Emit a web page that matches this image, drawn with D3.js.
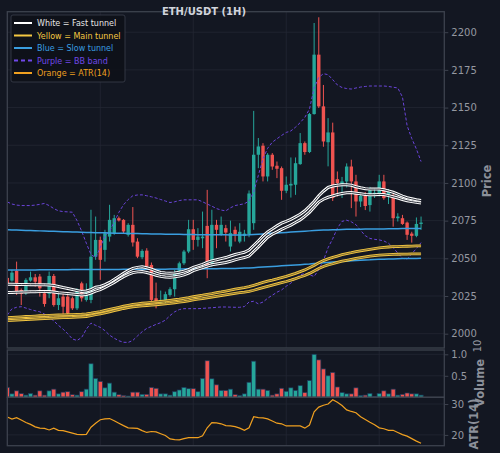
<!DOCTYPE html>
<html>
<head>
<meta charset="utf-8">
<script src="https://cdn.jsdelivr.net/npm/d3@7"></script>
<style>
  body { margin: 0; background: #131722; }
  svg { display: block; font-family: "DejaVu Sans", sans-serif; }
</style>
</head>
<body>
<svg id="chart" width="500" height="453"></svg>
<script>
// ---- data (one candle per hour, 90 candles) ----
var opens = [2037,2035.2,2041.6,2029,2026.8,2035.2,2037.4,2037.9,2026.8,2026.4,
  2038.3,2019,2024.6,2024.6,2023.5,2016.8,2033.4,2022.4,2022.4,2051.1,
  2062.2,2055.6,2064.4,2066.7,2076.6,2075.5,2065.6,2072.2,2061.1,2050.7,
  2055.1,2045.6,2023.5,2020.6,2021.3,2025.7,2029.5,2040.5,2046.7,2054.5,
  2069.3,2062.2,2063.3,2071.5,2046.7,2072.2,2066,2070,2057.8,2068.9,
  2061.1,2064.9,2066,2073.3,2118.7,2124.7,2104.3,2118.7,2111.4,2109.8,
  2094.8,2098.3,2098.8,2112.5,2126.4,2120.5,2145.7,2185.1,2150.8,2127,
  2133.5,2102.5,2098,2101,2110.9,2101,2087.7,2091.4,2085.3,2092,
  2092.3,2101,2092,2091.4,2076.6,2076.6,2073.7,2066.4,2064.9,2072.8];
var highs = [2039,2042.3,2047.8,2030,2036.8,2041.2,2039.6,2039.6,2029,2041.2,
  2039.6,2026.8,2027.9,2026.8,2024.6,2030.1,2034.5,2033.4,2082.2,2077.7,
  2064.4,2068.9,2085.5,2078.8,2077.7,2076,2073.3,2084,2063.3,2056,
  2056.7,2047.2,2033.9,2028.6,2027.9,2030.8,2042.3,2047.8,2055.6,2075.5,
  2075.5,2070,2081,2095.4,2082.2,2075.5,2077.7,2072.2,2075,2071.1,
  2073.3,2068.9,2095,2147.8,2129.8,2126.4,2119.8,2119.8,2114.2,2110.9,
  2104.3,2116.9,2116.9,2133.1,2127.5,2146.4,2206.1,2209.9,2165,2143,
  2140,2107.6,2104,2113,2115.4,2105.4,2093.6,2094,2097.4,2095.5,
  2105.4,2105.4,2096,2093.1,2079.9,2078.8,2074.4,2067.6,2077.1,2077.7];
var lows = [2030,2034.5,2025.7,2019,2025.7,2034.5,2031.2,2024.6,2017.9,2023.5,
  2017.9,2015.7,2012.4,2012,2015.7,2015.7,2021.3,2021.3,2020.2,2049,
  2035.7,2047.8,2061.1,2065.6,2074.4,2066.7,2064.4,2057.8,2050.1,2049.4,
  2042.3,2021.3,2016.8,2019,2019.7,2024.6,2024.6,2039.6,2045.6,2053.4,
  2055.6,2057.8,2056.7,2036.8,2044.5,2056.7,2064.9,2061.1,2054.5,2061.1,
  2060,2061.1,2064,2068.9,2109.8,2101,2101,2108.7,2103.2,2088.8,
  2093.2,2090.3,2092.1,2112,2118.7,2119.8,2145.3,2149.7,2124,2111,
  2088,2091,2090,2097,2083.3,2077.7,2084,2082,2081,2090,
  2091,2088.8,2086,2071,2074.4,2072.2,2062.2,2060.4,2064,2068.9];
var closes = [2033,2040.5,2027.9,2026.4,2035.7,2037.4,2034.5,2030.1,2019.7,2038.3,
  2019,2023.5,2017.9,2013.5,2016.8,2029,2023.5,2027.9,2051.1,2062.2,
  2049,2066.7,2075.5,2076.6,2075.1,2067.8,2072.2,2060.5,2051.1,2054.9,
  2044.5,2022.4,2021.3,2022.4,2026.2,2029.5,2040.5,2046.7,2054.5,2069.3,
  2062.2,2064.4,2064.4,2044.5,2072.2,2068.9,2072.2,2067.1,2066.7,2066,
  2067.6,2066.4,2093,2118.7,2124.2,2104.3,2118.7,2110.9,2109.4,2094.8,
  2098.8,2099.4,2113.1,2126.4,2120.5,2145.7,2185.1,2150.8,2127.5,2133.5,
  2090,2099.9,2101,2110.9,2101,2087.7,2091.4,2084.7,2095.2,2093.5,
  2101,2089.9,2094,2076.6,2077.7,2072.8,2065.6,2064.9,2072.8,2073.7];
var volumes = [0.23,0.08,0.15,0.085,0.05,0.09,0.05,0.15,0.05,0.15,
  0.19,0.08,0.12,0.13,0.06,0.05,0.13,0.19,0.78,0.44,
  0.37,0.22,0.33,0.12,0.06,0.04,0.03,0.12,0.12,0.07,
  0.07,0.23,0.21,0.08,0.08,0.05,0.13,0.17,0.23,0.2,
  0.2,0.13,0.44,0.85,0.43,0.29,0.16,0.16,0.19,0.06,
  0.04,0.08,0.35,0.84,0.19,0.19,0.16,0.05,0.08,0.21,
  0.14,0.22,0.16,0.27,0.11,0.39,1.0,0.87,0.66,0.5,
  0.58,0.24,0.11,0.08,0.08,0.22,0.04,0.05,0.09,0.02,
  0.09,0.15,0.08,0.19,0.05,0.07,0.1,0.08,0.08,0.05];
var atr = [25.8,25.1,25.6,24.8,24.0,23.4,22.6,22.2,22.1,21.6,
  22.2,21.5,21.4,21.0,20.6,20.2,20.1,20.2,22.5,23.8,
  24.9,25.2,25.3,24.6,23.8,23.0,22.3,22.2,22.1,21.4,
  20.8,21.1,21.0,20.4,19.8,18.7,18.5,18.4,18.8,19.1,
  19.1,19.1,19.7,22.3,24.0,23.9,23.6,23.0,22.9,22.7,
  22.2,21.5,22.3,25.9,25.6,25.5,25.2,24.5,23.8,23.6,
  22.9,22.9,22.9,22.9,22.2,23.2,27.5,29.0,29.6,30.0,
  31.4,30.6,29.5,28.1,27.6,27.2,25.9,25.0,24.1,23.3,
  22.3,22.0,21.5,21.5,20.8,20.1,19.6,18.8,18.0,17.3];
var fastHi = [2032.8,2032.8,2032.7,2032.6,2032.6,2032.5,2032.5,2032.4,2032.4,2032.3,
  2032,2031.3,2030.6,2030,2029.3,2028.6,2028,2028.3,2029.2,2030.8,
  2031.3,2032.5,2034,2036,2038,2040,2041.8,2043.3,2044,2044.4,
  2043.7,2042.8,2041.6,2040.6,2040.3,2040.1,2040.3,2040.8,2041.5,2042.5,
  2044,2045,2046,2047.3,2048.3,2049,2049.8,2050.5,2051.5,2052.5,
  2053.3,2054,2055.5,2058.5,2061.5,2064.8,2067.5,2069.5,2071.5,2073.3,
  2074.5,2075.8,2077.5,2079.2,2081.5,2084.5,2087.7,2091.5,2094.5,2097,
  2098,2098.5,2098.8,2098.8,2098.5,2097.5,2096.8,2096.2,2095.9,2095.9,
  2095.9,2095.5,2094.7,2093.8,2092.6,2091.3,2090.2,2089.5,2088.8,2088.3];
var fastLo = [2027.3,2027.4,2027.5,2027.6,2027.7,2027.8,2027.8,2027.9,2027.9,2027.9,
  2027.6,2027.2,2026.9,2026.6,2026.3,2026,2025.7,2026,2027,2028.2,
  2029.2,2030.7,2032.3,2034,2036,2037.8,2039.3,2040.5,2041,2041.2,
  2040.6,2039.8,2038.8,2038,2037.6,2037.4,2037.7,2038.2,2039,2040.2,
  2041.8,2042.8,2043.8,2044.8,2045.7,2046.2,2046.7,2047.2,2048,2049,
  2049.8,2050.5,2051.5,2054.5,2057.5,2060.8,2064,2066,2067.5,2069.2,
  2070.6,2072,2073.8,2075.5,2077.8,2080.5,2083.8,2087.3,2089.2,2090.5,
  2091.4,2092.3,2093,2093.5,2093.6,2093.2,2092.8,2092.4,2092.1,2092.2,
  2092.4,2092.3,2091.6,2090.8,2090,2089,2088.2,2087.6,2087.1,2086.7];
var mainHi = [2010.6,2010.8,2011,2011.2,2011.4,2011.5,2011.7,2011.9,2012,2012.2,
  2012.3,2012.4,2012.5,2012.6,2012.7,2012.8,2012.9,2013.2,2013.6,2014.2,
  2014.7,2015.4,2016.1,2016.8,2017.5,2018.2,2018.8,2019.4,2019.8,2020.2,
  2020.5,2020.8,2021.1,2021.4,2021.7,2022.1,2022.5,2022.9,2023.4,2023.9,
  2024.5,2025,2025.5,2026.1,2026.6,2027.2,2027.7,2028.3,2028.9,2029.5,
  2030.1,2030.6,2031.2,2032.1,2033,2034,2034.8,2035.5,2036.3,2037.2,
  2038,2039,2040,2041.2,2042.3,2043.8,2045.3,2047,2048.5,2049.6,
  2050.6,2051.5,2052.4,2053.1,2053.7,2054.4,2055,2055.5,2056,2056.5,
  2056.9,2057.2,2057.5,2057.7,2057.8,2057.9,2058,2058.1,2058.2,2058.2];
var mainLo = [2008.6,2008.8,2009,2009.2,2009.4,2009.5,2009.7,2009.9,2010,2010.2,
  2010.3,2010.5,2010.6,2010.7,2010.8,2011,2011.1,2011.4,2011.9,2012.6,
  2013.1,2013.8,2014.5,2015.3,2016,2016.7,2017.3,2017.8,2018.1,2018.4,
  2018.7,2018.9,2019.2,2019.5,2019.8,2020.1,2020.5,2020.9,2021.3,2021.8,
  2022.4,2022.9,2023.3,2023.8,2024.3,2024.8,2025.3,2025.8,2026.3,2026.8,
  2027.2,2027.5,2028,2028.8,2029.7,2030.6,2031.4,2032.2,2033,2033.8,
  2034.6,2035.5,2036.5,2037.6,2038.6,2040,2041.6,2043.2,2044.6,2045.6,
  2046.4,2047.3,2048.1,2048.7,2049.3,2049.9,2050.4,2050.9,2051.4,2051.8,
  2052.1,2052.3,2052.5,2052.6,2052.7,2052.8,2052.8,2052.9,2052.9,2052.9];
var slowHi = [2068.9,2068.8,2068.7,2068.6,2068.5,2068.4,2068.3,2068.2,2068.1,2068.0,
  2067.9,2067.8,2067.7,2067.6,2067.5,2067.4,2067.3,2067.2,2067.1,2067.0,
  2066.9,2066.9,2066.8,2066.7,2066.7,2066.6,2066.5,2066.5,2066.4,2066.3,
  2066.3,2066.2,2066.1,2066.1,2066.0,2066.0,2065.9,2065.9,2065.8,2065.8,
  2065.8,2065.7,2065.7,2065.7,2065.6,2065.6,2065.6,2065.6,2065.5,2065.5,
  2065.5,2065.5,2065.6,2065.8,2066.0,2066.2,2066.4,2066.6,2066.8,2067.0,
  2067.2,2067.4,2067.6,2067.8,2068.0,2068.2,2068.4,2068.6,2068.7,2068.8,
  2068.9,2069.0,2069.1,2069.2,2069.2,2069.3,2069.3,2069.4,2069.4,2069.5,
  2069.5,2069.5,2069.6,2069.6,2069.6,2069.7,2069.7,2069.7,2069.8,2069.8];
var slowLo = [2042.3,2042.3,2042.3,2042.3,2042.3,2042.3,2042.3,2042.4,2042.4,2042.4,
  2042.4,2042.4,2042.4,2042.4,2042.5,2042.5,2042.5,2042.5,2042.5,2042.5,
  2042.6,2042.6,2042.6,2042.6,2042.6,2042.7,2042.7,2042.7,2042.7,2042.7,
  2042.8,2042.8,2042.8,2042.8,2042.8,2042.9,2042.9,2042.9,2042.9,2043.0,
  2043.0,2043.0,2043.0,2043.1,2043.1,2043.1,2043.2,2043.2,2043.3,2043.3,
  2043.4,2043.5,2043.6,2043.8,2044.0,2044.2,2044.4,2044.6,2044.8,2045.0,
  2045.2,2045.4,2045.6,2045.8,2046.0,2046.2,2046.5,2046.8,2047.0,2047.3,
  2047.5,2047.7,2047.9,2048.1,2048.3,2048.5,2048.7,2048.9,2049.0,2049.2,
  2049.3,2049.4,2049.5,2049.6,2049.7,2049.8,2049.8,2049.9,2049.9,2050.0];
var bbUp = [2087.4,2086,2085.3,2085,2085,2085,2085.3,2085.8,2086.4,2085,
  2083,2081.5,2081,2080.8,2080.6,2075,2068,2060,2052.5,2050.5,
  2057,2065,2068,2074,2080.5,2085.5,2089,2091.5,2092,2092.1,
  2091.5,2090.8,2090,2089,2088,2087,2087.5,2088.3,2088.8,2088.8,
  2088.8,2088.8,2087.5,2086,2084.6,2083,2082,2081.5,2083.5,2085,
  2085.6,2086.2,2088,2094,2105,2116,2123,2127,2129.3,2131.5,
  2133.5,2134.5,2137,2140,2143.5,2149,2163,2170,2172.5,2171.8,
  2168.5,2165,2163.3,2162.6,2162.3,2163,2163.6,2164,2164.3,2164.3,
  2164.3,2164.3,2164,2163.5,2163,2157,2138,2129.5,2122.5,2114.2];
var bbLo = [2012.4,2016.5,2017.5,2017.9,2017,2016,2015.2,2014.5,2013,2011,
  2008.5,2005.5,2003,2000,1996.5,1995.5,1997.5,2003,2007,2005.5,
  2004.2,2002,1999,1997,1995.3,1994.3,1994.2,1995.5,1998.5,2001.3,
  2003.5,2004.8,2006.2,2007.3,2009,2012,2014.5,2016,2016.6,2016.6,
  2016.6,2016.6,2016.8,2017,2017.2,2017.5,2017.7,2017.7,2017.6,2017.5,
  2017.5,2018,2021,2021.5,2019.8,2021,2023.5,2025.5,2027.5,2029,
  2031.5,2033.5,2036.5,2039,2040,2039,2038,2042.5,2048.5,2057,
  2063,2070,2074.5,2075.3,2074.2,2072.3,2068.5,2065,2063.2,2062.6,
  2062.2,2061.5,2060,2057,2053.5,2050,2049.4,2053,2056.5,2060.4];

var priceTicks = [2000, 2025, 2050, 2075, 2100, 2125, 2150, 2175, 2200];
var volTicks = [0.5, 1.0];
var atrTicks = [20, 30];
var gridIdx = [20, 40, 60, 80];
var legendLabels = ["White = Fast tunnel", "Yellow = Main tunnel", "Blue = Slow tunnel", "Purple = BB band", "Orange = ATR(14)"];
var legendColors = ["#ffffff", "#f5c842", "#3a9ee0", "#7048e8", "#f0a020"];

// ---- layout ----
var svg = d3.select("#chart");
var left = 7.3, right = 444.3;
var mainTop = 11.7, mainBot = 348, volTop = 350, volBot = 397.3, atrTop = 397.3, atrBot = 445.7;
var bg = "#131722", up = "#26a69a", down = "#ef5350", gridCol = "#232734", spineCol = "#3d424e", textCol = "#9598a1";

svg.append("rect").attr("width", 500).attr("height", 453).attr("fill", bg);

var x = d3.scaleLinear().domain([0, 94]).range([left, right]);
var yP = d3.scaleLinear().domain([1990.5, 2213.6]).range([mainBot, mainTop]);
var yV = d3.scaleLinear().domain([0, 1.1]).range([volBot, volTop]);
var yA = d3.scaleLinear().domain([16.51, 32.18]).range([atrBot, atrTop]);

var defs = svg.append("defs");
function clip(id, y0, y1) {
  defs.append("clipPath").attr("id", id).append("rect")
    .attr("x", left).attr("y", y0).attr("width", right - left).attr("height", y1 - y0);
}
clip("cMain", mainTop, mainBot);
clip("cVol", volTop, volBot);
clip("cAtr", atrTop, atrBot);

function grid(y0, y1, yScale, ticks) {
  var g = svg.append("g");
  g.selectAll(".v").data(gridIdx).enter().append("line")
    .attr("x1", function(d) { return x(d); }).attr("x2", function(d) { return x(d); })
    .attr("y1", y0).attr("y2", y1).attr("stroke", gridCol).attr("stroke-width", 0.8);
  g.selectAll(".h").data(ticks).enter().append("line")
    .attr("x1", left).attr("x2", right)
    .attr("y1", function(d) { return yScale(d); }).attr("y2", function(d) { return yScale(d); })
    .attr("stroke", gridCol).attr("stroke-width", 0.8);
}
grid(mainTop, mainBot, yP, priceTicks);
grid(volTop, volBot, yV, volTicks);
grid(atrTop, atrBot, yA, atrTicks);

// ---- candles ----
var idx = d3.range(opens.length);
var gc = svg.append("g").attr("clip-path", "url(#cMain)");
var bw = 3.4;
gc.selectAll(".wick").data(idx).enter().append("line")
  .attr("x1", function(i) { return x(i); }).attr("x2", function(i) { return x(i); })
  .attr("y1", function(i) { return yP(highs[i]); }).attr("y2", function(i) { return yP(lows[i]); })
  .attr("stroke", function(i) { return closes[i] >= opens[i] ? up : down; })
  .attr("stroke-width", 1);
gc.selectAll(".body").data(idx).enter().append("rect")
  .attr("x", function(i) { return x(i) - bw / 2; })
  .attr("y", function(i) { return yP(Math.max(opens[i], closes[i])); })
  .attr("width", bw)
  .attr("height", function(i) { return Math.max(0.8, Math.abs(yP(opens[i]) - yP(closes[i]))); })
  .attr("fill", function(i) { return closes[i] >= opens[i] ? up : down; });

// ---- overlay lines ----
var line = d3.line().x(function(d, i) { return x(i); }).y(function(d) { return yP(d); });
function plain(arr, col, w, dash) {
  gc.append("path").attr("d", line(arr)).attr("fill", "none")
    .attr("stroke", col).attr("stroke-width", w).attr("stroke-dasharray", dash || null);
}
// tunnel lines: a wide coloured stroke with a dark core
function doubled(arr, col, w, core, op) {
  plain(arr, col, w);
  gc.append("path").attr("d", line(arr)).attr("fill", "none")
    .attr("stroke", bg).attr("stroke-opacity", op).attr("stroke-width", core);
}
plain(bbUp, "#6a44d8", 1, "3,2");
plain(bbLo, "#6a44d8", 1, "3,2");
plain(slowHi, "#3a9ee0", 1.5);
plain(slowLo, "#3a9ee0", 1.5);
doubled(mainHi, "#f5c842", 2.8, 0.9, 0.6);
doubled(mainLo, "#f5c842", 2.8, 0.9, 0.6);
doubled(fastHi, "#ffffff", 3.0, 1.0, 0.9);
doubled(fastLo, "#ffffff", 3.0, 1.0, 0.9);

// ---- volume ----
var gv = svg.append("g").attr("clip-path", "url(#cVol)");
gv.selectAll("rect").data(idx).enter().append("rect")
  .attr("x", function(i) { return x(i) - 2.1; })
  .attr("y", function(i) { return yV(volumes[i]); })
  .attr("width", 4.2)
  .attr("height", function(i) { return yV(0) - yV(volumes[i]); })
  .attr("fill", function(i) { return closes[i] >= opens[i] ? up : down; })
  .attr("stroke", "#1d3a5c").attr("stroke-width", 0.7);

// ---- ATR ----
var ga = svg.append("g").attr("clip-path", "url(#cAtr)");
ga.append("path")
  .attr("d", d3.line().x(function(d, i) { return x(i); }).y(function(d) { return yA(d); })(atr))
  .attr("fill", "none").attr("stroke", "#f0a020").attr("stroke-width", 1.2);

// ---- spines ----
[[mainTop, mainBot], [volTop, volBot], [atrTop, atrBot]].forEach(function(p) {
  svg.append("rect").attr("x", left).attr("y", p[0]).attr("width", right - left).attr("height", p[1] - p[0])
    .attr("fill", "none").attr("stroke", spineCol).attr("stroke-width", 1.3);
});

// ---- right axes ----
function rightAxis(scale, ticks, fmt) {
  var g = svg.append("g").attr("transform", "translate(" + right + ",0)")
    .call(d3.axisRight(scale).tickValues(ticks).tickSize(4).tickPadding(3).tickFormat(fmt));
  g.select(".domain").remove();
  g.selectAll("line").attr("stroke", spineCol);
  g.selectAll("text").attr("fill", textCol).style("font-size", "10px")
    .style("font-family", "DejaVu Sans, sans-serif");
}
rightAxis(yP, priceTicks, d3.format("d"));
rightAxis(yV, volTicks, d3.format(".1f"));
rightAxis(yA, atrTicks, d3.format("d"));

function yLabel(txt, cx, cy) {
  svg.append("text").attr("transform", "translate(" + cx + "," + cy + ") rotate(-90)")
    .attr("text-anchor", "middle").attr("fill", "#8c909a")
    .style("font-size", "11.5px").style("font-weight", "bold").text(txt);
}
yLabel("Price", 491, 181);
yLabel("Volume", 484, 383);
yLabel("ATR(14)", 478, 424);
svg.append("text").attr("transform", "translate(481,346) rotate(-90)")
  .attr("text-anchor", "middle").attr("fill", textCol).style("font-size", "10px").text("10");

// ---- title ----
svg.append("text").attr("x", 204).attr("y", 15).attr("text-anchor", "middle")
  .attr("fill", "#d1d4dc").style("font-size", "10px").style("font-weight", "bold")
  .text("ETH/USDT (1H)");

// ---- legend ----
var lg = svg.append("g");
lg.append("rect").attr("x", 11).attr("y", 15).attr("width", 114).attr("height", 67).attr("rx", 2)
  .attr("fill", "#0e1118").attr("fill-opacity", 0.9).attr("stroke", "#3a3f4b").attr("stroke-width", 0.8);
legendLabels.forEach(function(t, k) {
  var cy = 23 + k * 12.5;
  lg.append("line").attr("x1", 14).attr("x2", 32).attr("y1", cy).attr("y2", cy)
    .attr("stroke", legendColors[k]).attr("stroke-width", 2)
    .attr("stroke-dasharray", k === 3 ? "4,3" : null);
  lg.append("text").attr("x", 37).attr("y", cy + 3).attr("fill", k === 0 ? "#e6e6e6" : legendColors[k])
    .style("font-size", "8px").text(t);
});
</script>
</body>
</html>
